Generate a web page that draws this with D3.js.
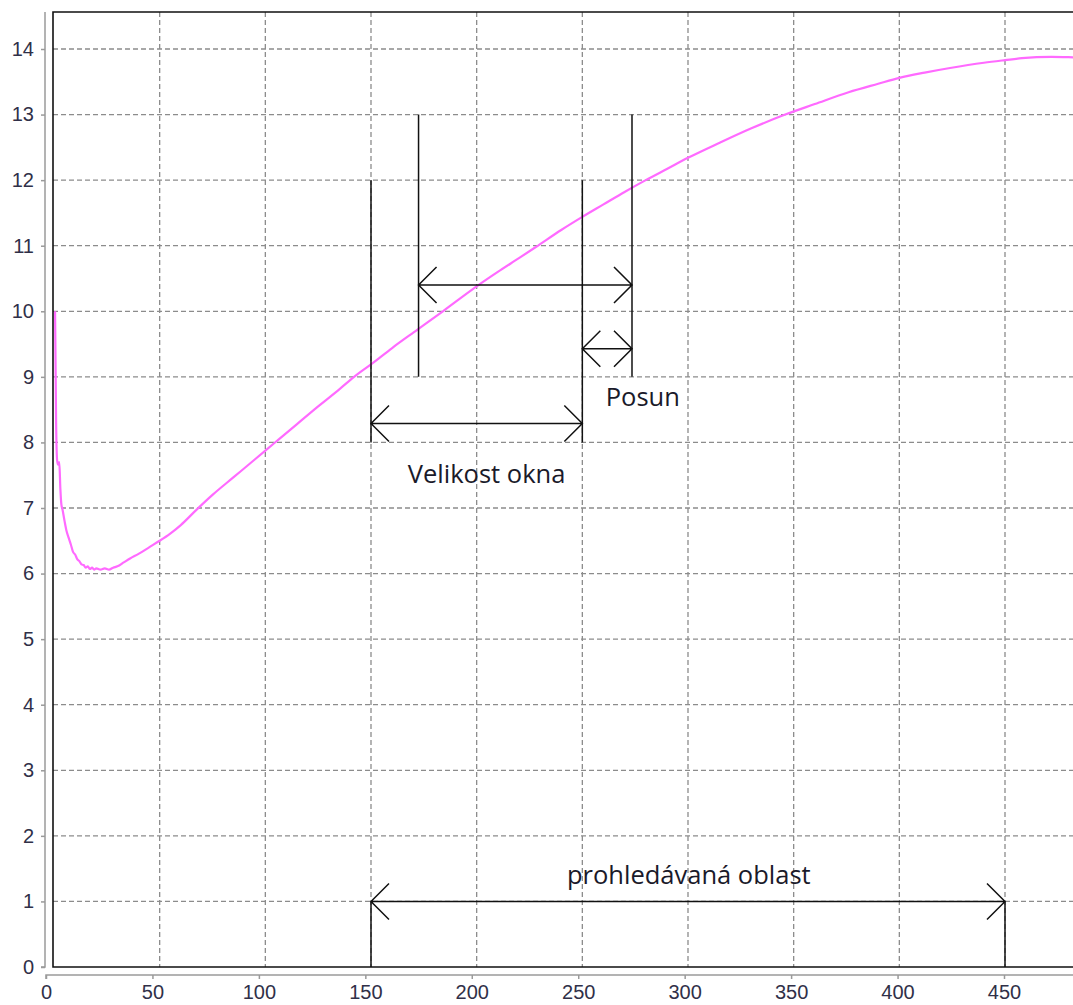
<!DOCTYPE html>
<html>
<head>
<meta charset="utf-8">
<script src="https://cdnjs.cloudflare.com/ajax/libs/d3/7.8.5/d3.min.js"></script>
<style>
  body { margin: 0; background: #fff; }
  svg { display: block; }
</style>
</head>
<body>
<script>
var svgWidth = 1073;
var svgHeight = 1005;

// curve readings (x, value)
var curveX = [0.5, 1, 1.5, 2, 2.5, 3, 3.5, 4, 5, 6, 7, 8, 9, 10, 11, 12, 13, 14, 15, 16, 17, 18, 19, 20,
  22, 24, 26, 28, 30, 33, 36, 40, 45, 50, 55, 60, 67, 75, 85, 95, 105, 115, 125, 135, 142, 150, 160,
  172, 184, 200, 210, 220, 228, 240, 250, 260, 270, 280, 290, 300, 315, 330, 346, 360, 376, 390, 400,
  412, 424, 440, 450, 458, 465, 472, 480, 487];
var curveY = [10.0, 8.3, 7.72, 7.66, 7.7, 7.3, 7.05, 6.98, 6.8, 6.64, 6.54, 6.44, 6.33, 6.29, 6.22, 6.19, 6.14, 6.13, 6.09, 6.11, 6.07, 6.09, 6.06, 6.08,
  6.06, 6.08, 6.06, 6.09, 6.11, 6.17, 6.23, 6.3, 6.4, 6.5, 6.61, 6.74, 6.96, 7.2, 7.47, 7.74, 8.01, 8.28, 8.55, 8.81, 9.0, 9.19, 9.44,
  9.72, 10.0, 10.38, 10.6, 10.81, 10.98, 11.24, 11.44, 11.63, 11.82, 12.0, 12.17, 12.34, 12.57, 12.79, 13.0, 13.16, 13.34, 13.47, 13.56,
  13.64, 13.71, 13.79, 13.83, 13.86, 13.875, 13.88, 13.875, 13.87];

var xTicks = [0, 50, 100, 150, 200, 250, 300, 350, 400, 450];
var yTicks = [0, 1, 2, 3, 4, 5, 6, 7, 8, 9, 10, 11, 12, 13, 14];

// annotation marks
var guideX = [150, 250, 172.5, 273.5, 150, 450];
var guideFrom = [8, 8, 9, 9, 0, 1];
var guideTo = [12, 12, 13, 13, 1, 0];
var arrowFrom = [172.5, 250, 150, 150];
var arrowTo = [273.5, 273.5, 250, 450];
var arrowAt = [10.4, 9.43, 8.29, 1.0];
var noteText = ["Posun", "Velikost okna", "prohledávaná oblast"];
var noteX = [278.6, 204.7, 300.4];
var noteY = [8.55, 7.38, 1.27];

var frame = { left: 53, top: 12, bottom: 967 };

var svg = d3.select("body")
    .append("svg")
    .attr("width", svgWidth)
    .attr("height", svgHeight);

// grid / plot scale (back wall) and axis scale (front)
var xScale = d3.scaleLinear().domain([0, 450]).range([54, 1005]);
var xAxisScale = d3.scaleLinear().domain([0, 450]).range([46, 1004]);
var yScale = d3.scaleLinear().domain([0, 14]).range([967, 49]);

// grid
svg.append("g")
    .selectAll("line")
    .data(xTicks.filter(d => d > 0))
    .enter().append("line")
    .attr("x1", d => xScale(d)).attr("x2", d => xScale(d))
    .attr("y1", frame.top).attr("y2", frame.bottom)
    .attr("stroke", "#8c8c8c").attr("stroke-width", 1.3)
    .attr("stroke-dasharray", "5,3");

svg.append("g")
    .selectAll("line")
    .data(yTicks.filter(d => d > 0))
    .enter().append("line")
    .attr("x1", frame.left).attr("x2", svgWidth)
    .attr("y1", d => yScale(d)).attr("y2", d => yScale(d))
    .attr("stroke", "#8c8c8c").attr("stroke-width", 1.3)
    .attr("stroke-dasharray", "5,3");

// curve
var pts = curveX.map((x, i) => [x, curveY[i]]);
svg.append("path")
    .datum(pts)
    .attr("fill", "none")
    .attr("stroke", "#ff6aff")
    .attr("stroke-width", 2.2)
    .attr("d", d3.line().curve(d3.curveMonotoneX).x(d => xScale(d[0])).y(d => yScale(d[1])));

// frame
svg.append("path")
    .attr("d", `M${svgWidth + 5},${frame.top}H${frame.left}V${frame.bottom}H${svgWidth + 5}`)
    .attr("fill", "none")
    .attr("stroke", "#111")
    .attr("stroke-width", 1.6);

// axes
var leftAxis = d3.axisLeft(yScale).tickValues(yTicks).tickSize(4).tickPadding(7);
var bottomAxis = d3.axisBottom(xAxisScale).tickValues(xTicks).tickSize(4).tickPadding(6);

var gy = svg.append("g")
    .attr("transform", "translate(45,0)")
    .call(leftAxis);
gy.select(".domain").attr("d", `M-4,${yScale(0)}H0V${frame.top}`);

var gx = svg.append("g")
    .attr("transform", "translate(0,975)")
    .call(bottomAxis);
gx.select(".domain").attr("d", `M${xAxisScale(0)},4V0H${svgWidth + 5}`);

svg.selectAll(".domain, .tick line")
    .attr("stroke", "#9a9a9a")
    .attr("stroke-width", 1.5);
svg.selectAll(".tick text")
    .attr("fill", "#303048")
    .style("font-family", "'Liberation Sans', Arial, sans-serif")
    .style("font-size", "20px");

// annotations
var ann = svg.append("g")
    .attr("stroke", "#111")
    .attr("stroke-width", 1.5)
    .attr("fill", "none");

ann.selectAll("line.guide")
    .data(guideX)
    .enter().append("line")
    .attr("class", "guide")
    .attr("x1", d => xScale(d)).attr("x2", d => xScale(d))
    .attr("y1", (d, i) => yScale(guideFrom[i]))
    .attr("y2", (d, i) => yScale(guideTo[i]));

var head = 18;
ann.selectAll("path.arrow")
    .data(arrowAt)
    .enter().append("path")
    .attr("class", "arrow")
    .attr("d", function(d, i) {
        var x0 = xScale(arrowFrom[i]), x1 = xScale(arrowTo[i]), y = yScale(d);
        return `M${x0},${y}H${x1}` +
            `M${x0 + head},${y - head}L${x0},${y}L${x0 + head},${y + head}` +
            `M${x1 - head},${y - head}L${x1},${y}L${x1 - head},${y + head}`;
    });

svg.append("g")
    .selectAll("text")
    .data(noteText)
    .enter().append("text")
    .attr("x", (d, i) => xScale(noteX[i]))
    .attr("y", (d, i) => yScale(noteY[i]))
    .attr("text-anchor", "middle")
    .attr("fill", "#1a1a2a")
    .style("font-family", "'Open Sans', 'Noto Sans', sans-serif")
    .style("font-size", "25.5px")
    .text(d => d);
</script>
</body>
</html>
